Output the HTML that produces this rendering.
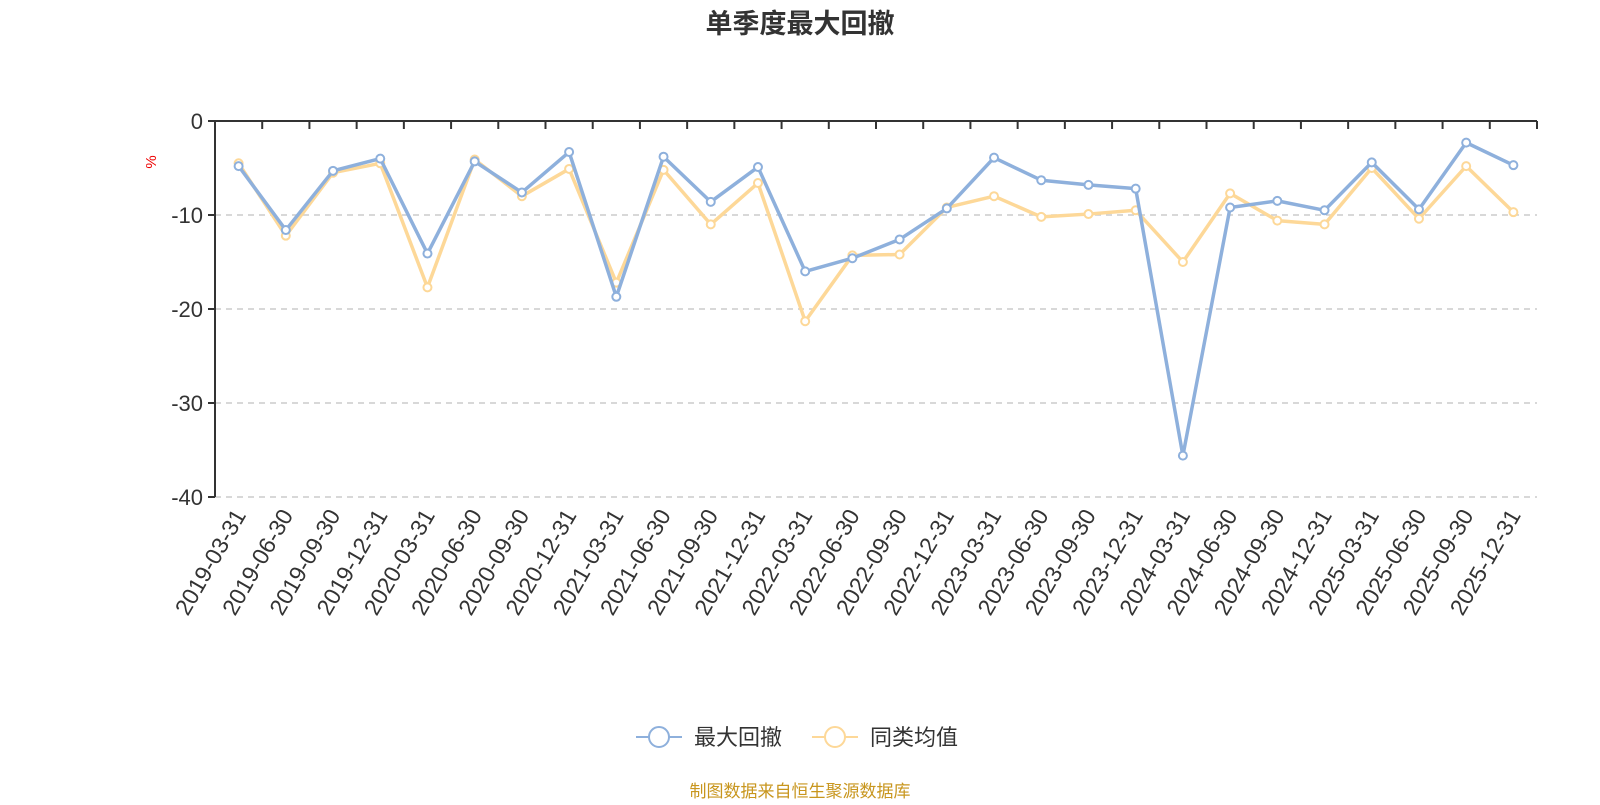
<!DOCTYPE html>
<html><head><meta charset="utf-8"><style>
body{margin:0;background:#fff;width:1600px;height:800px;overflow:hidden;font-family:"Liberation Sans","Noto Sans CJK SC",sans-serif}
</style></head><body>
<svg id="c" width="1600" height="800" xmlns="http://www.w3.org/2000/svg">
<text x="800" y="33" text-anchor="middle" font-size="27" font-weight="bold" fill="#333" font-family="Liberation Sans, Noto Sans CJK SC, sans-serif">单季度最大回撤</text>
<text transform="translate(156,162) rotate(-90)" text-anchor="middle" font-size="15" fill="#e00">%</text>
<g id="grid"></g><g id="axes"></g><g id="series"></g>
<g>
<g><line x1="636" y1="737" x2="682" y2="737" stroke="#8eb0dc" stroke-width="2"/><circle cx="659" cy="737" r="10" fill="#fff" stroke="#8eb0dc" stroke-width="2"/><text x="694" y="745" font-size="22" fill="#333">最大回撤</text></g>
<g><line x1="812" y1="737" x2="858" y2="737" stroke="#fdd898" stroke-width="2"/><circle cx="835" cy="737" r="10" fill="#fff" stroke="#fdd898" stroke-width="2"/><text x="870" y="745" font-size="22" fill="#333">同类均值</text></g>
</g>
<text x="800" y="797" text-anchor="middle" font-size="17" fill="#c8961e">制图数据来自恒生聚源数据库</text>
</svg>
<script>
const categories=["2019-03-31","2019-06-30","2019-09-30","2019-12-31","2020-03-31","2020-06-30","2020-09-30","2020-12-31","2021-03-31","2021-06-30","2021-09-30","2021-12-31","2022-03-31","2022-06-30","2022-09-30","2022-12-31","2023-03-31","2023-06-30","2023-09-30","2023-12-31","2024-03-31","2024-06-30","2024-09-30","2024-12-31","2025-03-31","2025-06-30","2025-09-30","2025-12-31"];
const maxDrawdown=[-4.8,-11.6,-5.3,-4.0,-14.1,-4.3,-7.6,-3.3,-18.7,-3.8,-8.6,-4.9,-16.0,-14.6,-12.6,-9.3,-3.9,-6.3,-6.8,-7.2,-35.6,-9.2,-8.5,-9.5,-4.4,-9.4,-2.3,-4.7];
const peerAverage=[-4.5,-12.2,-5.5,-4.5,-17.7,-4.1,-8.0,-5.1,-17.2,-5.2,-11.0,-6.6,-21.3,-14.3,-14.2,-9.2,-8.0,-10.2,-9.9,-9.5,-15.0,-7.7,-10.6,-11.0,-5.0,-10.4,-4.8,-9.7];
const yTicks=[0,-10,-20,-30,-40];
const NS="http://www.w3.org/2000/svg";
const L=215,R=1537,T=121,B=497;
const band=(R-L)/categories.length;
const x=i=>L+band*(i+0.5);
const y=v=>T+(0-v)/40*(B-T);
function mk(tag,attrs,parent){const e=document.createElementNS(NS,tag);for(const k in attrs)e.setAttribute(k,attrs[k]);parent.appendChild(e);return e;}
const grid=document.getElementById('grid'),axes=document.getElementById('axes'),ser=document.getElementById('series');
yTicks.forEach(t=>{
 if(t!==0){const g=mk('line',{x1:L,x2:R,y1:y(t),y2:y(t),stroke:'#ccc','stroke-width':1.5,'stroke-dasharray':'6,5'},grid);
 
 }
 const tk=mk('line',{x1:L-7,x2:L,y1:y(t),y2:y(t),stroke:'#333','stroke-width':2},axes);
 
 
 const tx=mk('text',{x:L-12,y:y(t)+8,'text-anchor':'end','font-size':22,fill:'#333'},axes);
 tx.textContent=t;
 
 
});
const ya=mk('line',{x1:L,x2:L,y1:T,y2:B,stroke:'#333','stroke-width':2},axes);


const xa=mk('line',{x1:L,x2:R,y1:T,y2:T,stroke:'#333','stroke-width':2},axes);


for(let i=0;i<=categories.length;i++){
 const tk=mk('line',{x1:L+band*i,x2:L+band*i,y1:T,y2:T+8,stroke:'#333','stroke-width':2},axes);
 
 
}
categories.forEach((c,i)=>{
 const tx=mk('text',{transform:`translate(${x(i)+8},${B+18}) rotate(-60)`,'text-anchor':'end','font-size':23,fill:'#333'},axes);
 tx.textContent=c;
 
 
});
function drawSeries(vals,color,name){
 const g=mk('g',{},ser);
 
 
 const p=mk('polyline',{points:vals.map((v,i)=>x(i)+','+y(v)).join(' '),fill:'none',stroke:color,'stroke-width':3.5,'stroke-linejoin':'round'},g);
 
 
 vals.forEach((v,i)=>{
  const c=mk('circle',{cx:x(i),cy:y(v),r:4,fill:'#fff',stroke:color,'stroke-width':2},g);
  
  
 });
}
drawSeries(peerAverage,'#fdd898','peer-average-series');
drawSeries(maxDrawdown,'#8eb0dc','max-drawdown-series');
</script>
</body></html>
